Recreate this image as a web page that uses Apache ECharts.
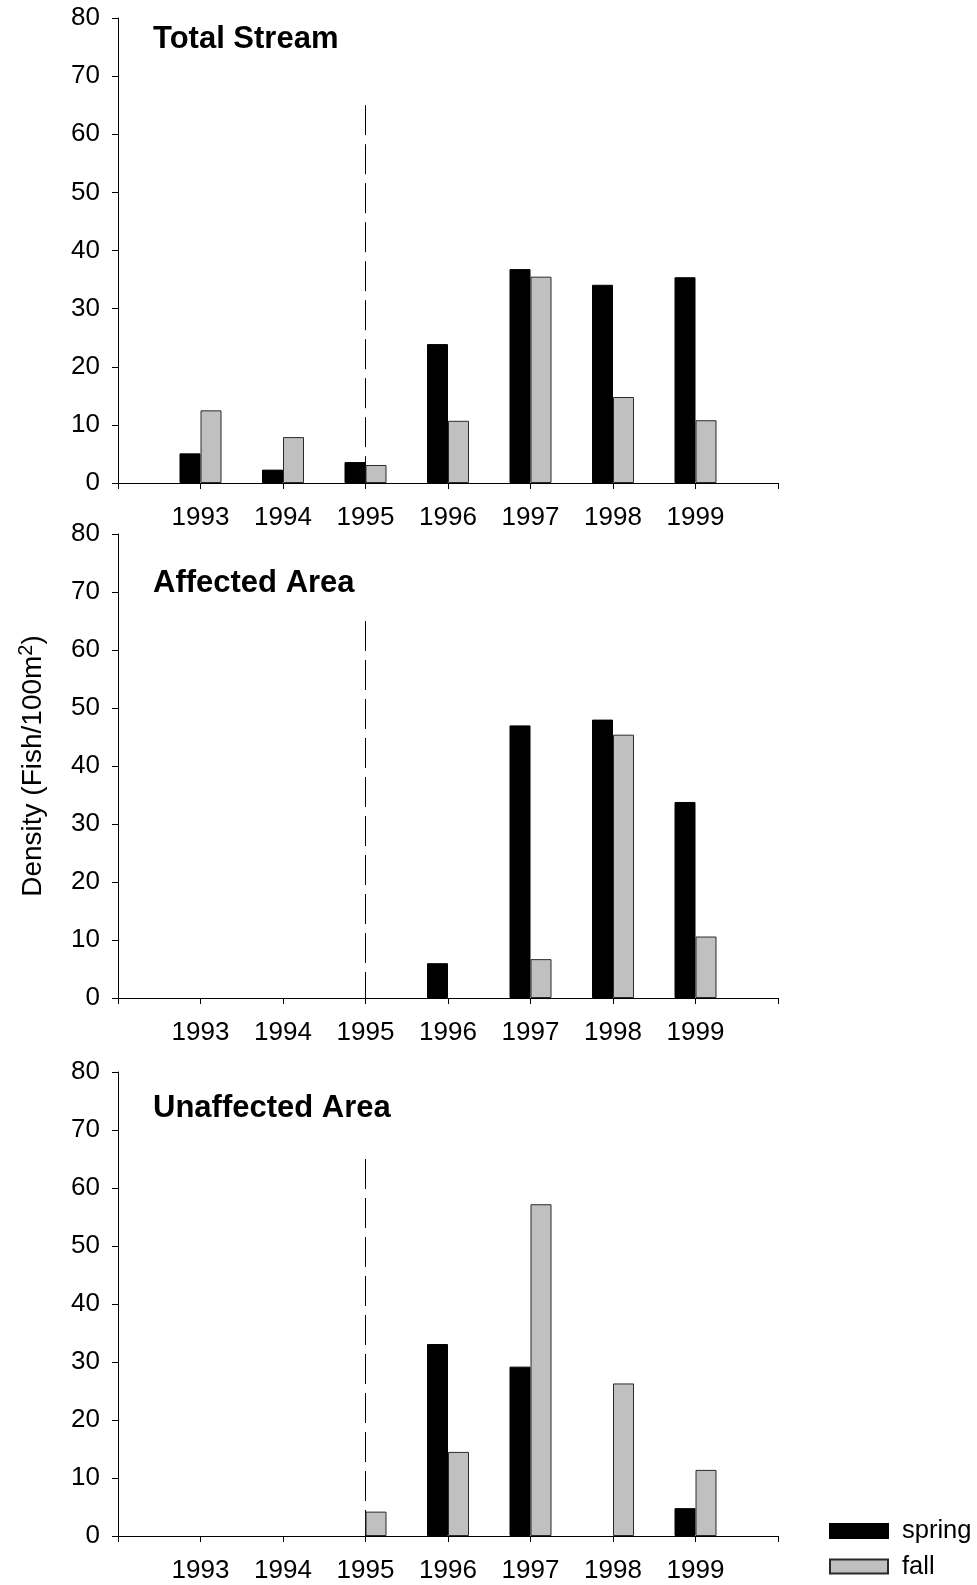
<!DOCTYPE html>
<html>
<head>
<meta charset="utf-8">
<script src="https://cdn.jsdelivr.net/npm/echarts@6/dist/echarts.min.js"></script>
<style>
  html, body { margin: 0; padding: 0; background: #fff; }
  #chart { width: 977px; height: 1585px; }
</style>
</head>
<body>
<div id="chart"></div>
<script>
// Sampling years and tick labels
const years = [1993, 1994, 1995, 1996, 1997, 1998, 1999];
const axisStart = 1992;
const axisEnd = 2000;
const yTickStep = 10;
const yMax = 80;

// Density (fish / 100 m^2), null = no sample
const totalSpring = [5.1, 2.3, 3.6, 23.9, 36.8, 34.1, 35.4];
const totalFall = [12.5, 7.9, 3.1, 10.7, 35.5, 14.8, 10.8];
const affectedSpring = [null, null, null, 6.0, 47.0, 48.0, 33.8];
const affectedFall = [null, null, null, null, 6.7, 45.4, 10.6];
const unaffectedSpring = [null, null, null, 33.1, 29.2, null, 4.8];
const unaffectedFall = [null, null, 4.2, 14.5, 57.2, 26.3, 11.4];

// Event marker (dashed line)
const eventYear = 1995;
const eventTop = 65;

const panelTitles = ['Total Stream', 'Affected Area', 'Unaffected Area'];
const panelData = [
  [totalSpring, totalFall],
  [affectedSpring, affectedFall],
  [unaffectedSpring, unaffectedFall]
];

const FONT = '"Liberation Sans", Arial, sans-serif';
const gridTops = [18, 534, 1072];
const gridHeights = [465, 464, 464];
const titleY = [39, 583.5, 1108];

function toPoints(vals) {
  const out = [];
  vals.forEach((v, k) => { if (v !== null) out.push([years[k], v]); });
  return out;
}

const grids = [], xAxes = [], yAxes = [], series = [], graphics = [];

panelData.forEach((pair, i) => {
  grids.push({ left: 118, width: 660, top: gridTops[i], height: gridHeights[i], containLabel: false });
  xAxes.push({
    type: 'value', gridIndex: i, min: axisStart, max: axisEnd, interval: 1,
    axisLine: { show: true, onZero: false, lineStyle: { color: '#000', width: 1 } },
    axisTick: { show: true, length: 6, lineStyle: { color: '#000', width: 1 } },
    splitLine: { show: false },
    axisLabel: {
      margin: 22, color: '#000', fontFamily: FONT, fontSize: 26,
      formatter: v => (years.indexOf(v) >= 0 ? String(v) : '')
    }
  });
  yAxes.push({
    type: 'value', gridIndex: i, min: 0, max: yMax, interval: yTickStep,
    axisLine: { show: true, lineStyle: { color: '#000', width: 1 } },
    axisTick: { show: true, length: 6, lineStyle: { color: '#000', width: 1 } },
    splitLine: { show: false },
    axisLabel: { margin: 18, color: '#000', fontFamily: FONT, fontSize: 26 }
  });
  series.push({
    type: 'bar', name: 'spring', xAxisIndex: i, yAxisIndex: i,
    barWidth: 21, barGap: '0%',
    itemStyle: { color: '#000', borderColor: '#000', borderWidth: 1 },
    data: toPoints(pair[0])
  });
  series.push({
    type: 'bar', name: 'fall', xAxisIndex: i, yAxisIndex: i,
    barWidth: 21, barGap: '0%',
    itemStyle: { color: '#c0c0c0', borderColor: '#2a2a2a', borderWidth: 1 },
    data: toPoints(pair[1])
  });
  series.push({
    type: 'line', name: 'event', xAxisIndex: i, yAxisIndex: i,
    symbol: 'none', silent: true, z: 1,
    lineStyle: { color: '#000', width: 1, type: [30, 9] },
    data: [[eventYear, eventTop], [eventYear, 0]]
  });
  graphics.push({
    type: 'text', left: 153, top: titleY[i] - 15.5,
    style: { text: panelTitles[i], fill: '#000', font: 'bold 31px ' + FONT }
  });
});

// Shared y-axis title with superscript
graphics.push({
  type: 'text', x: 33, y: 766, rotation: Math.PI / 2,
  style: {
    text: '{a|Density (Fish/100m}{s|2}{a|)}',
    align: 'center', verticalAlign: 'middle',
    rich: {
      a: { fontSize: 28, fontFamily: FONT, fill: '#000', color: '#000' },
      s: { fontSize: 20, fontFamily: FONT, fill: '#000', color: '#000', padding: [0, 0, 14, 0] }
    }
  }
});

const chart = echarts.init(document.getElementById('chart'), null, { renderer: 'canvas' });
chart.setOption({
  animation: false,
  backgroundColor: '#fff',
  grid: grids,
  xAxis: xAxes,
  yAxis: yAxes,
  series: series,
  graphic: graphics,
  legend: {
    data: [{ name: 'spring', icon: 'rect' }, { name: 'fall', icon: 'rect' }],
    orient: 'vertical', left: 829, top: 1518, padding: 0,
    itemWidth: 58, itemHeight: 14, itemGap: 9.5, selectedMode: false,
    textStyle: { fontFamily: FONT, fontSize: 25.5, color: '#000', lineHeight: 24, padding: [0, 0, 0, 9] }
  }
});
</script>
</body>
</html>
